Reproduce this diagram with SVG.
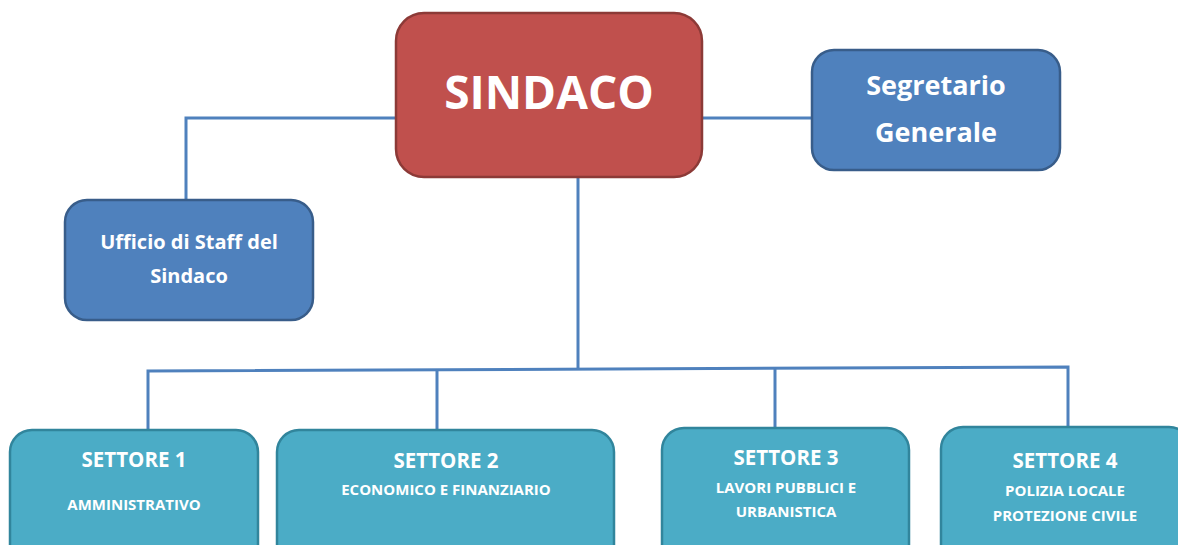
<svg xmlns="http://www.w3.org/2000/svg" width="1178" height="545" viewBox="0 0 1178 545">
<style>
.red{fill:#C0504D;stroke:#8C3A37;stroke-width:2.5}
.blue{fill:#4F81BD;stroke:#385D8A;stroke-width:2.5}
.teal{fill:#4BACC6;stroke:#31859C;stroke-width:2.5}
.t{font-family:"Open Sans","Liberation Sans",sans-serif;font-weight:bold;fill:#fff;text-anchor:middle}
.h{font-size:20.5px}
.s{font-size:15px}
.c{fill:none;stroke:#4F81BD;stroke-width:3}
</style>
<rect width="1178" height="545" fill="#fff"/>
<g id="connectors">
<path class="c" d="M396 118 H186 V200"/>
<path class="c" d="M702 118 H812"/>
<path class="c" d="M578 177 V369"/>
<path class="c" d="M148 430 V371 L1068 367 V428"/>
<path class="c" d="M437 369.7 V430"/>
<path class="c" d="M775 368.2 V428"/>
</g>
<g id="sindaco">
<rect class="red" x="396" y="13" width="306" height="164" rx="28"/>
<text class="t" x="549" y="109" font-size="46">SINDACO</text>
</g>
<g id="segretario">
<rect class="blue" x="812" y="50" width="248" height="120" rx="22"/>
<text class="t" x="936" y="95" font-size="27">Segretario</text>
<text class="t" x="936" y="142" font-size="27">Generale</text>
</g>
<g id="ufficio">
<rect class="blue" x="65" y="200" width="248" height="120" rx="22"/>
<text class="t" x="189" y="249" font-size="20">Ufficio di Staff del</text>
<text class="t" x="189" y="283" font-size="20">Sindaco</text>
</g>
<g id="settore1">
<rect class="teal" x="10" y="430" width="248" height="140" rx="22"/>
<text class="t h" x="134" y="467">SETTORE 1</text>
<text class="t s" x="134" y="510">AMMINISTRATIVO</text>
</g>
<g id="settore2">
<rect class="teal" x="277" y="430" width="337" height="140" rx="22"/>
<text class="t h" x="446" y="468">SETTORE 2</text>
<text class="t s" x="446" y="495">ECONOMICO E FINANZIARIO</text>
</g>
<g id="settore3">
<rect class="teal" x="662" y="428" width="247" height="140" rx="22"/>
<text class="t h" x="786" y="465">SETTORE 3</text>
<text class="t s" x="786" y="493">LAVORI PUBBLICI E</text>
<text class="t s" x="786" y="517">URBANISTICA</text>
</g>
<g id="settore4">
<rect class="teal" x="941" y="427" width="250" height="140" rx="22"/>
<text class="t h" x="1065" y="468">SETTORE 4</text>
<text class="t s" x="1065" y="496">POLIZIA LOCALE</text>
<text class="t s" x="1065" y="521">PROTEZIONE CIVILE</text>
</g>
</svg>
